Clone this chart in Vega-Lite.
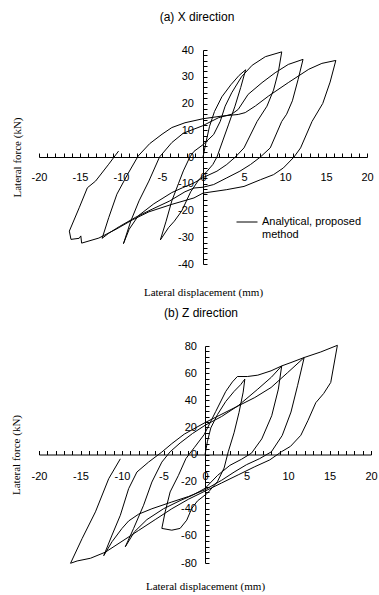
{
"$schema": "https://vega.github.io/schema/vega-lite/v6.json",
"usermeta": {"embedOptions": {"actions": false}},
"background": "white",
"padding": {"left": 10, "top": 11, "right": 0, "bottom": 0},
"spacing": 10,
"config": {
  "view": {"stroke": null},
  "font": "Liberation Sans",
  "axis": {"domainColor": "black", "tickColor": "black", "labelColor": "black", "titleColor": "black", "grid": false, "labelFont": "Liberation Sans", "labelFontSize": 11, "titleFont": "Liberation Serif", "titleFontSize": 11, "titleFontWeight": "normal", "domainWidth": 1, "tickWidth": 1, "labelOverlap": false, "labelFlush": false, "labelBound": false},
  "title": {"font": "Liberation Sans", "fontSize": 12, "fontWeight": "normal", "color": "black"},
  "legend": {"labelFont": "Liberation Sans", "labelFontSize": 11, "labelColor": "black"}
},
"datasets": {
"xdir": [
{"i":0,"d":0,"F":0},{"i":1,"d":0.4,"F":6},{"i":2,"d":0.8,"F":11.5},{"i":3,"d":1.4,"F":17},{"i":4,"d":2.3,"F":22.5},{"i":5,"d":3.4,"F":27},{"i":6,"d":4.4,"F":30.5},{"i":7,"d":5.2,"F":32.6},
{"i":8,"d":4.6,"F":26},{"i":9,"d":3.9,"F":19},{"i":10,"d":3.1,"F":12},{"i":11,"d":2.4,"F":6},{"i":12,"d":1.7,"F":0},{"i":13,"d":1.2,"F":-2.8},{"i":14,"d":0.5,"F":-5.3},{"i":15,"d":-0.5,"F":-8.5},{"i":16,"d":-1.5,"F":-13},{"i":17,"d":-2.6,"F":-20.2},{"i":18,"d":-3.5,"F":-24},{"i":19,"d":-4.2,"F":-26.4},{"i":20,"d":-5.2,"F":-31},
{"i":21,"d":-4.5,"F":-24},{"i":22,"d":-3.8,"F":-16.4},{"i":23,"d":-3,"F":-10},{"i":24,"d":-2.4,"F":-5.2},{"i":25,"d":-1.6,"F":0},{"i":26,"d":-1.1,"F":2.1},{"i":27,"d":0,"F":4.6},{"i":28,"d":1.3,"F":8.4},{"i":29,"d":2.1,"F":13.3},{"i":30,"d":2.7,"F":19},{"i":31,"d":3.5,"F":24},{"i":32,"d":4.7,"F":30},{"i":33,"d":6,"F":34.3},{"i":34,"d":7.6,"F":37.5},{"i":35,"d":9.6,"F":39.3},
{"i":36,"d":9.2,"F":32},{"i":37,"d":8.6,"F":25},{"i":38,"d":7.8,"F":19},{"i":39,"d":6.6,"F":13.3},{"i":40,"d":5,"F":3.4},{"i":41,"d":3.95,"F":0},{"i":42,"d":2.9,"F":-2.8},{"i":43,"d":1.7,"F":-5.3},{"i":44,"d":0,"F":-7.7},{"i":45,"d":-1.1,"F":-9.7},{"i":46,"d":-2.5,"F":-11.5},{"i":47,"d":-3.8,"F":-13.3},{"i":48,"d":-6,"F":-17.5},{"i":49,"d":-7.9,"F":-22},{"i":50,"d":-9,"F":-27},{"i":51,"d":-9.7,"F":-32.4},
{"i":52,"d":-8.8,"F":-23.9},{"i":53,"d":-7.8,"F":-16.4},{"i":54,"d":-6.6,"F":-9},{"i":55,"d":-5.3,"F":0},{"i":56,"d":-3.8,"F":5.4},{"i":57,"d":-2.4,"F":8.9},{"i":58,"d":-0.1,"F":11.6},{"i":59,"d":1.9,"F":14.7},{"i":60,"d":3.5,"F":16},{"i":61,"d":4.3,"F":17.8},{"i":62,"d":5.5,"F":23.4},{"i":63,"d":7.2,"F":27.8},{"i":64,"d":8.8,"F":31.5},{"i":65,"d":10.4,"F":34.6},{"i":66,"d":12.2,"F":36.5},
{"i":67,"d":11.6,"F":29},{"i":68,"d":10.9,"F":21},{"i":69,"d":10.2,"F":16},{"i":70,"d":9.6,"F":13.3},{"i":71,"d":8.2,"F":3.4},{"i":72,"d":7,"F":0},{"i":73,"d":5.8,"F":-2.8},{"i":74,"d":4.5,"F":-5.3},{"i":75,"d":2.9,"F":-7.8},{"i":76,"d":1.3,"F":-10.3},{"i":77,"d":0,"F":-11.3},{"i":78,"d":-1.1,"F":-11.6},{"i":79,"d":-2.2,"F":-13},{"i":80,"d":-4.1,"F":-16.5},{"i":81,"d":-6.2,"F":-19.5},{"i":82,"d":-8.2,"F":-22.5},{"i":83,"d":-10.2,"F":-26},{"i":84,"d":-11.5,"F":-28.5},{"i":85,"d":-12.3,"F":-30.4},
{"i":86,"d":-11.5,"F":-22.7},{"i":87,"d":-10.5,"F":-13.9},{"i":88,"d":-9.2,"F":-6.5},{"i":89,"d":-7.9,"F":0.4},{"i":90,"d":-6.5,"F":5},{"i":91,"d":-5,"F":8.5},{"i":92,"d":-3.8,"F":11},{"i":93,"d":-2.2,"F":12.8},{"i":94,"d":0,"F":14.3},{"i":95,"d":2.3,"F":15.3},{"i":96,"d":4.3,"F":15.9},{"i":97,"d":5.15,"F":16.6},{"i":98,"d":6.4,"F":19.1},{"i":99,"d":8,"F":22.8},{"i":100,"d":10.4,"F":27.8},{"i":101,"d":12.9,"F":32.8},{"i":102,"d":14.5,"F":35},{"i":103,"d":16.2,"F":36.1},
{"i":104,"d":15.5,"F":28},{"i":105,"d":14.6,"F":20},{"i":106,"d":13.3,"F":13.3},{"i":107,"d":11.9,"F":3.4},{"i":108,"d":11.1,"F":0},{"i":109,"d":9.8,"F":-4.1},{"i":110,"d":8.6,"F":-6.6},{"i":111,"d":7,"F":-8.5},{"i":112,"d":5,"F":-11},{"i":113,"d":2.9,"F":-12.2},{"i":114,"d":0,"F":-13.5},{"i":115,"d":-1.1,"F":-15.3},{"i":116,"d":-3.8,"F":-17.7},{"i":117,"d":-6.6,"F":-20.5},{"i":118,"d":-8.6,"F":-23.5},{"i":119,"d":-10.6,"F":-27},{"i":120,"d":-12.7,"F":-30.3},{"i":121,"d":-14.8,"F":-32.2},{"i":122,"d":-14.9,"F":-29.5},{"i":123,"d":-15.1,"F":-30.4},{"i":124,"d":-16.1,"F":-30.8},{"i":125,"d":-16.3,"F":-27.7},
{"i":126,"d":-15.1,"F":-19},{"i":127,"d":-14.1,"F":-11.5},{"i":128,"d":-13.1,"F":-9},{"i":129,"d":-11.5,"F":-2.7},{"i":130,"d":-10.3,"F":2.2}
],
"zdir": [
{"i":0,"d":0,"F":0},{"i":1,"d":0.3,"F":9.8},{"i":2,"d":0.7,"F":19.6},{"i":3,"d":1.5,"F":29.4},{"i":4,"d":2.5,"F":39.1},{"i":5,"d":3.5,"F":46.5},{"i":6,"d":4.3,"F":51.5},{"i":7,"d":4.8,"F":55.6},
{"i":8,"d":4.6,"F":46},{"i":9,"d":4.1,"F":31},{"i":10,"d":3.5,"F":16},{"i":11,"d":2.8,"F":2},{"i":12,"d":2.3,"F":-10},{"i":13,"d":1.5,"F":-20},{"i":14,"d":0.3,"F":-28.5},{"i":15,"d":-0.9,"F":-34.2},{"i":16,"d":-1.6,"F":-39.8},{"i":17,"d":-2.2,"F":-48.4},{"i":18,"d":-3,"F":-54.5},{"i":19,"d":-4,"F":-55.8},{"i":20,"d":-5.2,"F":-54.5},
{"i":21,"d":-4.8,"F":-42.3},{"i":22,"d":-4.2,"F":-27.6},{"i":23,"d":-3.2,"F":-15.4},{"i":24,"d":-2.3,"F":-3},{"i":25,"d":-1.3,"F":5},{"i":26,"d":-0.1,"F":14.7},{"i":27,"d":1.3,"F":31.8},{"i":28,"d":2.5,"F":46.5},{"i":29,"d":3.3,"F":53.5},{"i":30,"d":3.9,"F":57.5},{"i":31,"d":5.1,"F":57.5},{"i":32,"d":6.36,"F":58.5},{"i":33,"d":7.96,"F":61.7},{"i":34,"d":9.24,"F":65.3},
{"i":35,"d":8.84,"F":48.2},{"i":36,"d":8.04,"F":28.6},{"i":37,"d":6.84,"F":11.5},{"i":38,"d":5.6,"F":1},{"i":39,"d":4.4,"F":-3.5},{"i":40,"d":3,"F":-8},{"i":41,"d":1.5,"F":-15.5},{"i":42,"d":0,"F":-25},{"i":43,"d":-1.5,"F":-30},{"i":44,"d":-3,"F":-34},{"i":45,"d":-5,"F":-40},{"i":46,"d":-7,"F":-48},{"i":47,"d":-8.5,"F":-57},{"i":48,"d":-9.6,"F":-68},
{"i":49,"d":-8.6,"F":-54.5},{"i":50,"d":-7.4,"F":-37.4},{"i":51,"d":-6.4,"F":-20.3},{"i":52,"d":-5.2,"F":-5.6},{"i":53,"d":-4.2,"F":2},{"i":54,"d":-3,"F":8.5},{"i":55,"d":-1.5,"F":15.5},{"i":56,"d":0,"F":21.5},{"i":57,"d":2,"F":28},{"i":58,"d":4,"F":36},{"i":59,"d":6.36,"F":48.2},{"i":60,"d":8,"F":57},{"i":61,"d":9.24,"F":65.3},{"i":62,"d":10.36,"F":67.8},{"i":63,"d":11.95,"F":71.5},
{"i":64,"d":11.15,"F":50.7},{"i":65,"d":10.36,"F":31.3},{"i":66,"d":9.3,"F":14},{"i":67,"d":8,"F":2},{"i":68,"d":6.6,"F":-3},{"i":69,"d":5,"F":-7.5},{"i":70,"d":3.5,"F":-13},{"i":71,"d":2,"F":-19},{"i":72,"d":0,"F":-26},{"i":73,"d":-2,"F":-31},{"i":74,"d":-4,"F":-35},{"i":75,"d":-6.4,"F":-40},{"i":76,"d":-8,"F":-44},{"i":77,"d":-9.2,"F":-49},{"i":78,"d":-10,"F":-54.5},{"i":79,"d":-11.2,"F":-64.3},{"i":80,"d":-12.2,"F":-74.6},
{"i":81,"d":-11.2,"F":-59.4},{"i":82,"d":-10.2,"F":-44.8},{"i":83,"d":-9.2,"F":-25.2},{"i":84,"d":-8.2,"F":-12.9},{"i":85,"d":-6.8,"F":-5.6},{"i":86,"d":-5.2,"F":1.8},{"i":87,"d":-4,"F":8},{"i":88,"d":-2.5,"F":15},{"i":89,"d":0,"F":23.5},{"i":90,"d":3.5,"F":34.3},{"i":91,"d":6,"F":42},{"i":92,"d":7.96,"F":49.4},{"i":93,"d":9.96,"F":60.4},{"i":94,"d":11.95,"F":71.5},{"i":95,"d":13.95,"F":75.6},{"i":96,"d":15.95,"F":80.5},
{"i":97,"d":15.15,"F":53.1},{"i":98,"d":14.3,"F":45},{"i":99,"d":13.35,"F":38.2},{"i":100,"d":12.4,"F":25},{"i":101,"d":11.55,"F":14.2},{"i":102,"d":10.3,"F":6},{"i":103,"d":9.2,"F":2},{"i":104,"d":7.8,"F":-4},{"i":105,"d":6,"F":-9},{"i":106,"d":4,"F":-15},{"i":107,"d":2,"F":-21},{"i":108,"d":0,"F":-27},{"i":109,"d":-2,"F":-33},{"i":110,"d":-4,"F":-40},{"i":111,"d":-6,"F":-48},{"i":112,"d":-8,"F":-56},{"i":113,"d":-10,"F":-64},{"i":114,"d":-12,"F":-72},{"i":115,"d":-13.8,"F":-76.5},{"i":116,"d":-15.4,"F":-78.5},{"i":117,"d":-16.2,"F":-80.2},
{"i":118,"d":-14.8,"F":-61.9},{"i":119,"d":-13.2,"F":-42.3},{"i":120,"d":-11.6,"F":-17.8},{"i":121,"d":-10.2,"F":-3.2}
]
},
"vconcat": [
{
  "width": 328, "height": 214,
  "title": {"text": "(a) X direction", "dx": -6, "offset": 20},
  "data": {"name": "xdir"},
  "mark": {"type": "line", "strokeWidth": 1, "clip": false},
  "encoding": {
    "x": {"field": "d", "type": "quantitative", "scale": {"domain": [-20, 20], "nice": false, "zero": false},
      "axis": {"values": [-20,-19,-18,-17,-16,-15,-14,-13,-12,-11,-10,-9,-8,-7,-6,-5,-4,-3,-2,-1,0,1,2,3,4,5,6,7,8,9,10,11,12,13,14,15,16,17,18,19,20],
        "labelExpr": "datum.value % 5 === 0 ? '' + datum.value : ''", "offset": -107, "tickSize": -4, "labelPadding": 18.5,
        "title": "Lateral displacement (mm)", "titleY": 129, "titleBaseline": "top"}},
    "y": {"field": "F", "type": "quantitative", "scale": {"domain": [-40, 40], "nice": false, "zero": false},
      "axis": {"values": [-40,-38,-36,-34,-32,-30,-28,-26,-24,-22,-20,-18,-16,-14,-12,-10,-8,-6,-4,-2,0,2,4,6,8,10,12,14,16,18,20,22,24,26,28,30,32,34,36,38,40],
        "labelExpr": "datum.value % 10 === 0 ? '' + datum.value : ''", "offset": -164, "tickSize": -4, "labelPadding": 13.5,
        "title": "Lateral force (kN)", "titleX": -181, "titleY": 107, "titleBaseline": "bottom"}},
    "order": {"field": "i", "type": "quantitative"},
    "color": {"datum": "Analytical, proposed method", "type": "nominal", "scale": {"range": ["black"]},
      "legend": {"orient": "none", "legendX": 197, "legendY": 161, "title": null, "symbolType": "stroke", "symbolSize": 441, "symbolStrokeWidth": 1, "symbolStrokeColor": "black", "labelExpr": "['Analytical, proposed', 'method']", "labelOffset": 4, "padding": 0}}
  }
},
{
  "width": 332, "height": 217,
  "title": {"text": "(b) Z direction", "dx": -4, "offset": 20},
  "data": {"name": "zdir"},
  "mark": {"type": "line", "strokeWidth": 1, "clip": false},
  "encoding": {
    "x": {"field": "d", "type": "quantitative", "scale": {"domain": [-20, 20], "nice": false, "zero": false},
      "axis": {"values": [-20,-19,-18,-17,-16,-15,-14,-13,-12,-11,-10,-9,-8,-7,-6,-5,-4,-3,-2,-1,0,1,2,3,4,5,6,7,8,9,10,11,12,13,14,15,16,17,18,19,20],
        "labelExpr": "datum.value % 5 === 0 ? '' + datum.value : ''", "offset": -108.5, "tickSize": -4, "labelPadding": 19.5,
        "title": "Lateral displacement (mm)", "titleY": 126, "titleBaseline": "top"}},
    "y": {"field": "F", "type": "quantitative", "scale": {"domain": [-80, 80], "nice": false, "zero": false},
      "axis": {"values": [-80,-76,-72,-68,-64,-60,-56,-52,-48,-44,-40,-36,-32,-28,-24,-20,-16,-12,-8,-4,0,4,8,12,16,20,24,28,32,36,40,44,48,52,56,60,64,68,72,76,80],
        "labelExpr": "datum.value % 20 === 0 ? '' + datum.value : ''", "offset": -166, "tickSize": -4, "labelPadding": 12.5,
        "title": "Lateral force (kN)", "titleX": -184, "titleY": 108.5, "titleBaseline": "bottom"}},
    "order": {"field": "i", "type": "quantitative"},
    "color": {"datum": "Analytical, proposed method", "type": "nominal", "scale": {"range": ["black"]},
      "legend": {"orient": "none", "legendX": 204, "legendY": 166, "title": null, "symbolType": "stroke", "symbolSize": 361, "symbolStrokeWidth": 1, "symbolStrokeColor": "black", "labelExpr": "['Analytical, proposed', 'method']", "labelOffset": 4, "padding": 0}}
  }
}
]
}
